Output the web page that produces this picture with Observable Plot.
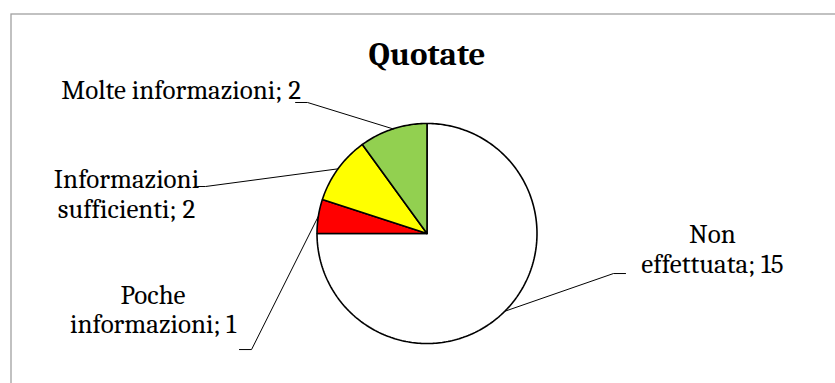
<!DOCTYPE html>
<html><head><meta charset="utf-8">
<script src="https://cdn.jsdelivr.net/npm/d3@7"></script>
<script src="https://cdn.jsdelivr.net/npm/@observablehq/plot@0.6"></script>
<style>body{margin:0;background:#fff}</style>
</head><body><div id="chart"></div>
<script>
// ---- data ----
const title = "Quotate";
const categories = ["Non effettuata", "Poche informazioni", "Informazioni sufficienti", "Molte informazioni"];
const values = [15, 1, 2, 2];
const colors = ["#ffffff", "#ff0000", "#ffff00", "#92d050"];
// where each label wraps (number of words on the first line)
const labelBreakAfter = [1, 1, 1, 2];

// ---- layout (in pie-radius units, centre = 0,0) ----
const labelPos = [[2.595, -0.355], [-2.491, -0.909], [-2.732, 0.145], [-2.236, 1.227]];
const leaderElbow = [[1.695, -0.364], [-1.595, -1.055], [-2.014, 0.427], [-1.086, 1.191]];
const leaderEnd = [[1.805, -0.364], [-1.705, -1.055], [-2.086, 0.427], [-1.195, 1.191]];
const titlePos = [0, 1.536];

const FONT = 'Cambria, "DejaVu Serif", serif';

const total = d3.sum(values);
let acc = 0;
const slices = values.map((v, i) => {
  const a0 = acc / total * 2 * Math.PI; acc += v;
  const a1 = acc / total * 2 * Math.PI;
  return {i, a0, a1, mid: (a0 + a1) / 2};
});
function arcPts(s) {
  const n = Math.max(2, Math.ceil((s.a1 - s.a0) / (Math.PI / 180)));
  const pts = [{x: 0, y: 0}];
  for (let k = 0; k <= n; k++) {
    const a = s.a0 + (s.a1 - s.a0) * k / n;
    pts.push({x: Math.sin(a), y: Math.cos(a)});
  }
  pts.push({x: 0, y: 0});
  return pts;
}
const leaders = slices.flatMap(s => [
  {z: s.i, x: Math.sin(s.mid), y: Math.cos(s.mid)},
  {z: s.i, x: leaderElbow[s.i][0], y: leaderElbow[s.i][1]},
  {z: s.i, x: leaderEnd[s.i][0], y: leaderEnd[s.i][1]}
]);
const labels = categories.map((c, i) => {
  const words = c.split(" ");
  const first = words.slice(0, labelBreakAfter[i]).join(" ");
  const rest = words.slice(labelBreakAfter[i]).join(" ");
  const text = rest ? `${first}\n${rest}; ${values[i]}` : `${first}; ${values[i]}`;
  return {x: labelPos[i][0], y: labelPos[i][1], text};
});

const R = 110, cx = 426.5, cy = 233, W = 835, H = 383;
const chart = Plot.plot({
  width: W, height: H, margin: 0,
  x: {domain: [-cx / R, (W - cx) / R], axis: null},
  y: {domain: [(cy - H) / R, cy / R], axis: null},
  marks: [
    Plot.frame({stroke: "#a0a0a0", strokeWidth: 1.3, insetLeft: 10.5, insetTop: 13.5, insetRight: -10, insetBottom: -10}),
    ...slices.map(s => Plot.line(arcPts(s), {x: "x", y: "y", fill: colors[s.i], stroke: "#000", strokeWidth: 1.6, strokeLinejoin: "miter"})),
    Plot.line(leaders, {x: "x", y: "y", z: "z", stroke: "#000", strokeWidth: 1}),
    Plot.text(labels, {x: "x", y: "y", text: "text", textAnchor: "middle", lineAnchor: "bottom", lineHeight: 1.11, fontSize: 27, fontFamily: FONT, fill: "#000"}),
    Plot.text([title], {x: () => titlePos[0], y: () => titlePos[1], text: d => d, textAnchor: "middle", lineAnchor: "bottom", fontSize: 33, fontWeight: "bold", fontFamily: FONT, fill: "#000"})
  ]
});
document.getElementById("chart").appendChild(chart);
</script>
</body></html>
